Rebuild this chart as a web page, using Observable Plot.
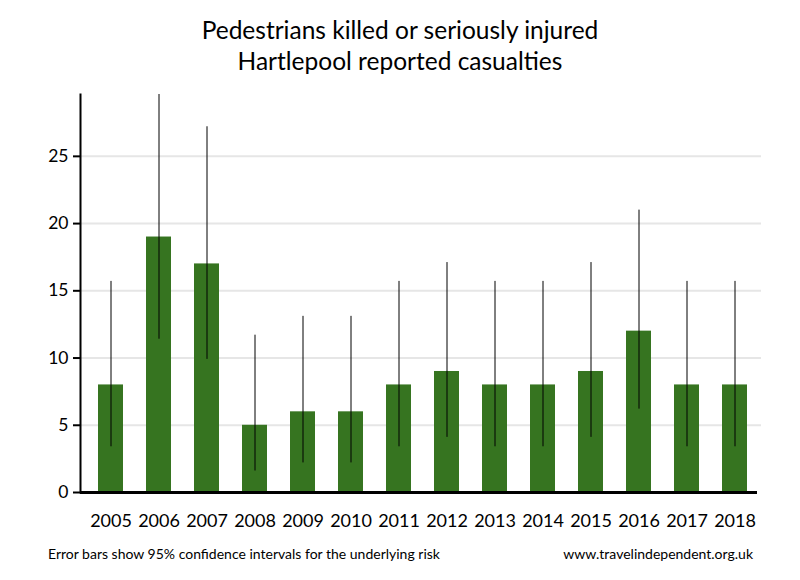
<!DOCTYPE html>
<html>
<head>
<meta charset="utf-8">
<script src="https://cdn.jsdelivr.net/npm/d3@7"></script>
<script src="https://cdn.jsdelivr.net/npm/@observablehq/plot@0.6"></script>
<style>
  body { margin: 0; background: #fff; font-family: Lato, "Noto Sans", sans-serif; }
  #wrap { width: 800px; height: 580px; position: relative; }
  #title { text-align: center; font-size: 24.5px; line-height: 31px; padding-top: 14px; height: 66px; color: #000; }
  #footer { position: absolute; top: 545px; left: 48px; width: 705px; font-size: 14px; display: flex; justify-content: space-between; color: #000; }
  svg { display: block; }
</style>
</head>
<body>
<div id="wrap">
  <div id="title">Pedestrians killed or seriously injured<br>Hartlepool reported casualties</div>
  <div id="chart"></div>
  <div id="footer"><span>Error bars show 95% confidence intervals for the underlying risk</span><span>www.travelindependent.org.uk</span></div>
</div>
<script>
const years = ["2005","2006","2007","2008","2009","2010","2011","2012","2013","2014","2015","2016","2017","2018"];
const casualties = [8, 19, 17, 5, 6, 6, 8, 9, 8, 8, 9, 12, 8, 8];
const ciLow  = [3.4, 11.4, 9.9, 1.6, 2.2, 2.2, 3.4, 4.1, 3.4, 3.4, 4.1, 6.2, 3.4, 3.4];
const ciHigh = [15.7, 29.6, 27.2, 11.7, 13.1, 13.1, 15.7, 17.1, 15.7, 15.7, 17.1, 21.0, 15.7, 15.7];
const yTicks = [0, 5, 10, 15, 20, 25];
const gridTicks = [5, 10, 15, 20, 25];

const data = years.map((y, i) => ({year: y, value: casualties[i], lo: ciLow[i], hi: ciHigh[i]}));

const chart = Plot.plot({
  width: 800,
  height: 460,
  marginLeft: 80,
  marginRight: 36,
  marginTop: 14,
  marginBottom: 48,
  style: {fontFamily: "Lato, 'Noto Sans', sans-serif", color: "#000", background: "#fff"},
  x: {domain: years, paddingInner: 0.48, paddingOuter: 0.365, label: null},
  y: {domain: [0, 29.6], label: null},
  marks: [
    Plot.ruleY(gridTicks, {stroke: "#e6e6e6", strokeWidth: 2, insetRight: 3}),
    Plot.barY(data, {x: "year", y: "value", fill: "#367420"}),
    Plot.ruleX(data, {x: "year", y1: "lo", y2: "hi", stroke: "#000", strokeWidth: 1}),
    Plot.axisY({ticks: yTicks, tickSize: 7, tickPadding: 5, fontSize: 17.5, strokeWidth: 2, label: null}),
    Plot.axisX({tickSize: 0, tickPadding: 22, fontSize: 18, label: null}),
    Plot.frame({anchor: "left", strokeWidth: 2, stroke: "#000"}),
    Plot.ruleY([0], {stroke: "#000", strokeWidth: 3, insetRight: 7})
  ]
});
document.getElementById("chart").appendChild(chart);
</script>
</body>
</html>
